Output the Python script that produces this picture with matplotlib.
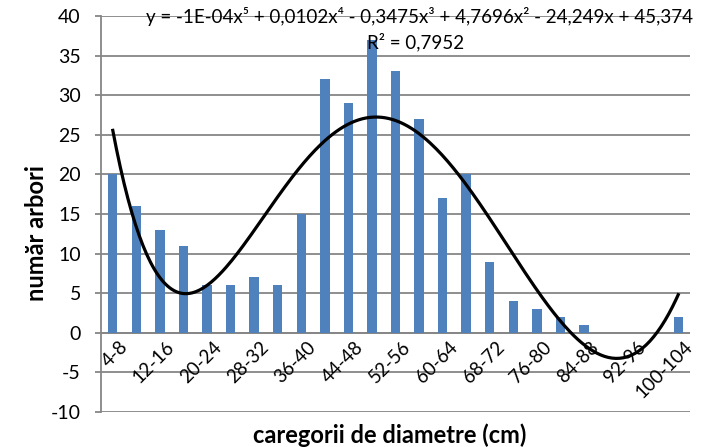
import numpy as np
import matplotlib.pyplot as plt

categorii = ["4-8", "8-12", "12-16", "16-20", "20-24", "24-28", "28-32", "32-36",
             "36-40", "40-44", "44-48", "48-52", "52-56", "56-60", "60-64", "64-68",
             "68-72", "72-76", "76-80", "80-84", "84-88", "88-92", "92-96", "96-100",
             "100-104"]
numar_arbori = [20, 16, 13, 11, 6, 6, 7, 6, 15, 32, 29, 37, 33, 27, 17, 20,
                9, 4, 3, 2, 1, 0, 0, 0, 2]
ecuatie = "y = -1E-04x⁵ + 0,0102x⁴ - 0,3475x³ + 4,7696x² - 24,249x + 45,374"
r2_text = "R² = 0,7952"

plt.rcParams['font.family'] = ['Lato', 'DejaVu Sans']
plt.rcParams['axes.unicode_minus'] = False

fig = plt.figure(figsize=(7.08, 4.47), dpi=100)
ax = fig.add_axes([101/708, 35/447, 589/708, 396/447])

x = np.arange(1, len(numar_arbori) + 1)
ax.bar(x, numar_arbori, width=0.4, color="#4F81BD", zorder=3)

# polynomial trendline, order 5 (as Excel)
coef = np.polyfit(x, numar_arbori, 5)
xs = np.linspace(1, len(numar_arbori), 300)
ax.plot(xs, np.polyval(coef, xs), color="black", lw=2.3, zorder=4)

ax.set_xlim(0.5, len(numar_arbori) + 0.5)
ax.set_ylim(-10, 40)
ax.set_yticks(range(-10, 41, 5))
ax.yaxis.grid(True, color="#868686", lw=1.3, zorder=0)
ax.set_axisbelow(True)
ax.tick_params(axis='y', labelsize=14, length=4.5, color="#868686", width=1.3, pad=10)
ax.tick_params(axis='x', length=0)
for s in ["top", "right", "bottom"]:
    ax.spines[s].set_visible(False)
ax.spines["left"].set_color("#868686")
ax.spines["left"].set_linewidth(1.3)
ax.axhline(0, color="#868686", lw=1.3, zorder=2)

ax.set_xticks([])
for i in range(0, len(categorii), 2):
    ax.text(x[i] + 0.25, -0.7, categorii[i], rotation=45, ha="right", va="top",
            rotation_mode="anchor", fontsize=13.5)

ax.text(1.005, 1.0, ecuatie, transform=ax.transAxes, ha="right", va="center",
        fontsize=13.5, zorder=5)
ax.text(0.452, 0.935, r2_text, transform=ax.transAxes, ha="left", va="center",
        fontsize=13.5, zorder=5)

fig.text(37/708, 214/447, "număr arbori", rotation=90, ha="center", va="center",
         fontsize=17, fontweight="bold")
fig.text(390/708, 12/447, "caregorii de diametre (cm)", ha="center", va="center",
         fontsize=17, fontweight="bold")

fig.savefig("out.png", dpi=100)
